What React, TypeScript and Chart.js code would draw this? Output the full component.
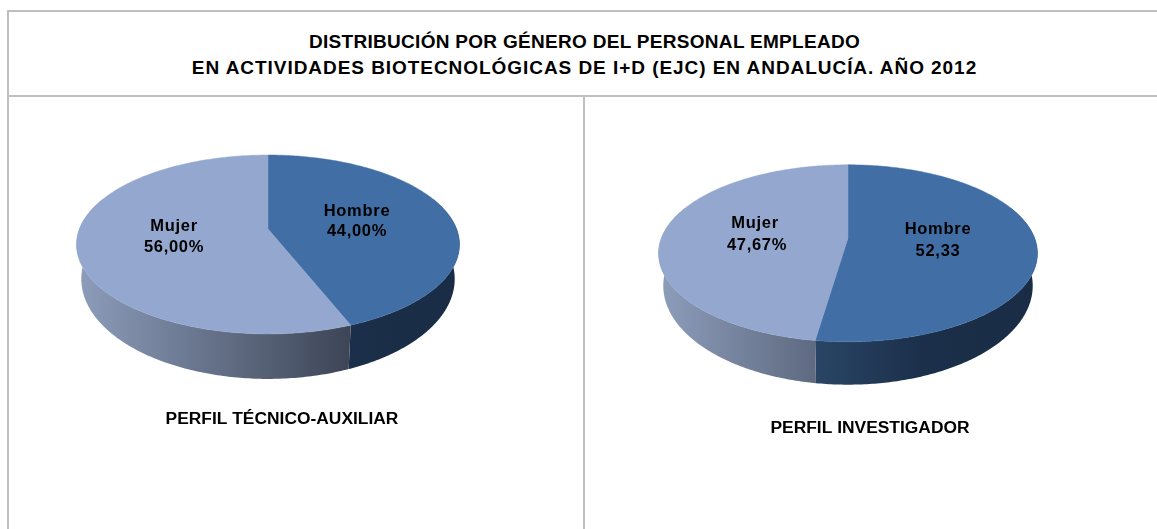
import React, { useEffect, useRef } from "react";
import { Chart, registerables } from "chart.js";

Chart.register(...registerables);

const categories = ["Hombre", "Mujer"];
const tecnicoValues = [44.0, 56.0];
const investigadorValues = [52.33, 47.67];
const tecnicoLabels = ["44,00%", "56,00%"];
const investigadorLabels = ["52,33", "47,67%"];
const titleLines = [
  "DISTRIBUCIÓN POR GÉNERO DEL PERSONAL EMPLEADO",
  "EN ACTIVIDADES BIOTECNOLÓGICAS DE I+D (EJC) EN ANDALUCÍA. AÑO 2012",
];
const tecnicoCaption = "PERFIL TÉCNICO-AUXILIAR";
const investigadorCaption = "PERFIL INVESTIGADOR";

const topColors = ["#416FA5", "#93A7CF"];
const sideStops: [number, string][][] = [
  [[0, "#3A5C86"], [0.41, "#2A4566"], [0.7, "#1B2F4A"], [1, "#1A2C45"]],
  [[0, "#8D9DBB"], [0.72, "#3C4455"], [1, "#333A49"]],
];
const FONT = "'Liberation Sans', Arial, sans-serif";

const pie3d = {
  id: "pie3d",
  beforeDatasetDraw(chart: any, _args: any, opts: any) {
    const { ctx } = chart;
    const arcs = chart.getDatasetMeta(0).data;
    const { dx, tilt, persp, depth, shrink, lowerTilt } = opts;
    const first = arcs[0];
    const R = first.outerRadius;
    const cx = first.x + dx;
    const cy = first.y;
    const project = (t: number, lower: boolean) => {
      const u = Math.cos(t);
      const v = -Math.sin(t);
      const w = 1 + persp * v;
      const s = lower ? shrink : 1;
      const m = lower ? lowerTilt : 1;
      return [
        cx + (R * s * u) / w,
        cy + (lower ? depth : 0) - (R * tilt * s * m * v) / w,
      ];
    };
    const widest = R / Math.sqrt(1 - persp * persp);
    const x0 = cx - widest;
    const x1 = cx + widest;
    const N = 180;
    ctx.save();
    // sides first, painted from the arcs' own angles
    arcs.forEach((arc: any, i: number) => {
      const lo = Math.max(arc.startAngle, -0.12 * Math.PI);
      const hi = Math.min(arc.endAngle, 1.12 * Math.PI);
      if (hi <= lo) return;
      const g = ctx.createLinearGradient(x0, 0, x1, 0);
      sideStops[i].forEach(([f, c]) => g.addColorStop(f, c));
      ctx.beginPath();
      for (let n = 0; n <= N; n++) {
        const p = project(lo + ((hi - lo) * n) / N, false);
        n ? ctx.lineTo(p[0], p[1]) : ctx.moveTo(p[0], p[1]);
      }
      for (let n = N; n >= 0; n--) {
        const p = project(lo + ((hi - lo) * n) / N, true);
        ctx.lineTo(p[0], p[1]);
      }
      ctx.closePath();
      ctx.fillStyle = g;
      ctx.fill();
    });
    // top face
    arcs.forEach((arc: any) => {
      ctx.beginPath();
      ctx.moveTo(cx, cy);
      for (let n = 0; n <= N; n++) {
        const p = project(arc.startAngle + ((arc.endAngle - arc.startAngle) * n) / N, false);
        ctx.lineTo(p[0], p[1]);
      }
      ctx.closePath();
      ctx.fillStyle = arc.options.backgroundColor;
      ctx.strokeStyle = arc.options.backgroundColor;
      ctx.lineWidth = 0.5;
      ctx.fill();
      ctx.stroke();
    });
    ctx.restore();
    return false;
  },
  afterDatasetsDraw(chart: any, _args: any, opts: any) {
    const { ctx } = chart;
    const arcs = chart.getDatasetMeta(0).data;
    const cx = arcs[0].x + opts.dx;
    const cy = arcs[0].y;
    ctx.save();
    ctx.font = `bold ${opts.labelSize}px ${FONT}`;
    ctx.fillStyle = "#000";
    ctx.textAlign = "center";
    ctx.textBaseline = "middle";
    if ("letterSpacing" in ctx) ctx.letterSpacing = opts.labelSpacing;
    opts.placement.forEach((pl: number[], i: number) => {
      ctx.fillText(chart.data.labels[i], cx + pl[0], cy + pl[1]);
      ctx.fillText(opts.texts[i], cx + pl[2], cy + pl[3]);
    });
    ctx.restore();
  },
};

function makeChart(
  canvas: HTMLCanvasElement,
  values: number[],
  texts: string[],
  caption: string,
  radius: number,
  dx: number,
  depth: number,
  captionPad: number,
  placement: number[][],
) {
  return new Chart(canvas, {
    type: "pie",
    data: {
      labels: categories,
      datasets: [{ data: values, backgroundColor: topColors, borderWidth: 0 }],
    },
    plugins: [pie3d],
    options: {
      responsive: false,
      animation: false,
      radius,
      layout: { padding: 0 },
      events: [],
      plugins: {
        legend: { display: false },
        tooltip: { enabled: false },
        title: {
          display: true,
          text: caption,
          position: "bottom",
          color: "#000",
          font: { family: FONT, size: 17.4, weight: "bold", lineHeight: 18 / 17.4 },
          padding: { top: captionPad, bottom: 0 },
        },
        pie3d: {
          dx,
          depth,
          tilt: 0.46,
          persp: 0.173,
          shrink: 0.975,
          lowerTilt: 1.146,
          labelSize: 16.5,
          labelSpacing: "0.7px",
          texts,
          placement,
        },
      },
    } as any,
  });
}

const box = (left: number, top: number, width: number, height: number): React.CSSProperties => ({
  position: "absolute",
  left,
  top,
  width,
  height,
  background: "#BFBFBF",
});

const titleStyle = (top: number, spacing: string): React.CSSProperties => ({
  position: "absolute",
  top,
  left: 84.5,
  width: 1000,
  textAlign: "center",
  font: `bold 19px ${FONT}`,
  lineHeight: "26px",
  letterSpacing: spacing,
  color: "#000",
  whiteSpace: "nowrap",
});

export default function App() {
  const a = useRef<HTMLCanvasElement>(null);
  const b = useRef<HTMLCanvasElement>(null);
  useEffect(() => {
    const c1 = makeChart(a.current!, tecnicoValues, tecnicoLabels, tecnicoCaption, 188.6, -14, 32.7, 50, [
      [89, -18, 89, 2],
      [-94, -3, -94, 18],
    ]);
    const c2 = makeChart(b.current!, investigadorValues, investigadorLabels, investigadorCaption, 186.6, -22, 30.7, 41, [
      [90, -9, 90, 13],
      [-93, -15, -91, 7],
    ]);
    return () => {
      c1.destroy();
      c2.destroy();
    };
  }, []);
  return (
    <div style={{ position: "fixed", inset: 0, background: "#fff", overflow: "hidden" }}>
      <div style={box(7, 10, 1150, 2)} />
      <div style={box(7, 95, 1150, 2)} />
      <div style={box(7, 10, 2, 519)} />
      <div style={box(583, 97, 2, 432)} />
      <div style={titleStyle(29, "0.3px")}>{titleLines[0]}</div>
      <div style={titleStyle(55, "0.95px")}>{titleLines[1]}</div>
      <canvas ref={a} width={564} height={330} style={{ position: "absolute", left: 0, top: 98 }} />
      <canvas ref={b} width={568} height={339} style={{ position: "absolute", left: 586, top: 98 }} />
    </div>
  );
}
